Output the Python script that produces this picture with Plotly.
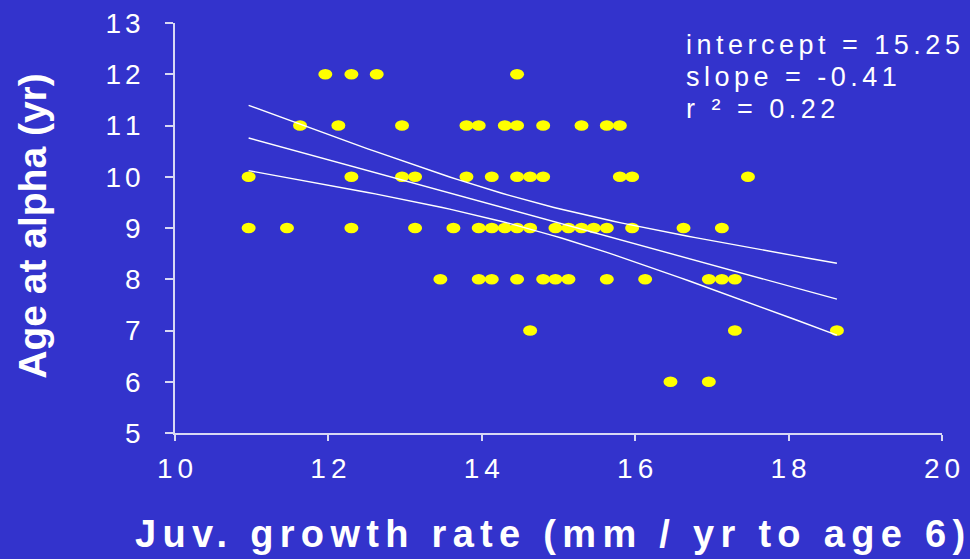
import numpy as np
import plotly.graph_objects as go

# Juvenile growth rate (mm / yr to age 6) of each fish, grouped by age at alpha (yr)
growth_age_12 = [11.96, 12.30, 12.63, 14.46]
growth_age_11 = [11.63, 12.13, 12.96, 13.80, 13.96, 14.30, 14.46, 14.80, 15.30, 15.63, 15.80]
growth_age_10 = [10.96, 12.30, 12.96, 13.13, 13.80, 14.13, 14.46, 14.63, 14.80, 15.80, 15.96, 17.47]
growth_age_9 = [10.96, 11.46, 12.30, 13.13, 13.63, 13.96, 14.13, 14.30, 14.46, 14.63, 14.96,
                15.13, 15.30, 15.46, 15.63, 15.96, 16.63, 17.13]
growth_age_8 = [13.46, 13.96, 14.13, 14.46, 14.80, 14.96, 15.13, 15.63, 16.13, 16.96, 17.13, 17.30]
growth_age_7 = [14.63, 17.30, 18.63]
growth_age_6 = [16.46, 16.96]

# Fitted regression
INTERCEPT = 15.25
SLOPE = -0.41
R_SQUARED = 0.22
T_90 = 1.671  # two-sided 90% t quantile, ~60 df

x_ticks = [10, 12, 14, 16, 18, 20]
y_ticks = [5, 6, 7, 8, 9, 10, 11, 12, 13]

BG = "#3333CC"
DOT = "#FFFF00"
AXIS = "#D8D8F4"
FONT = "Liberation Sans, Arial, sans-serif"

groups = {12: growth_age_12, 11: growth_age_11, 10: growth_age_10, 9: growth_age_9,
          8: growth_age_8, 7: growth_age_7, 6: growth_age_6}
gx = np.array([g for age, vals in groups.items() for g in vals])
ay = np.array([age for age, vals in groups.items() for _ in vals], dtype=float)

# Regression line with confidence band of the mean
xs = np.linspace(gx.min(), gx.max(), 80)
fit = INTERCEPT + SLOPE * xs
n = len(gx)
resid = ay - (INTERCEPT + SLOPE * gx)
s = np.sqrt(np.sum(resid ** 2) / (n - 2))
sxx = np.sum((gx - gx.mean()) ** 2)
half = T_90 * s * np.sqrt(1.0 / n + (xs - gx.mean()) ** 2 / sxx)


def spaced(text, px):
    # letter-spacing on every character except the last, so no trailing gap
    return f'<span style="letter-spacing:{px}px">{text[:-1]}</span>{text[-1]}'


fig = go.Figure()
line_style = dict(color="white", width=1.4)
for yv in (fit + half, fit, fit - half):
    fig.add_trace(go.Scatter(x=xs, y=yv, mode="lines", line=line_style,
                             hoverinfo="skip", showlegend=False))

# Elliptical yellow dots anchored at each observation
shapes = []
for xv, yv in zip(gx, ay):
    shapes.append(dict(type="circle", xref="x", yref="y", xsizemode="pixel", ysizemode="pixel",
                       xanchor=float(xv), yanchor=float(yv), x0=-7, x1=7, y0=-5.3, y1=5.3,
                       fillcolor=DOT, line=dict(width=0), layer="below"))

annotations = [
    dict(text="Age at alpha (yr)", textangle=-90, xref="paper", yref="paper",
         x=-0.216, y=0.505, showarrow=False,
         font=dict(family=FONT, size=39, color="white", weight="bold")),
    dict(text=spaced("Juv. growth rate (mm / yr to age 6)", 6.3), xref="paper", yref="paper",
         x=0.4885, y=-0.302, showarrow=False,
         font=dict(family=FONT, size=38, color="white", weight="bold")),
]
stat_lines = [f"intercept = {INTERCEPT:.2f}", f"slope = {SLOPE:.2f}", f"r ² = {R_SQUARED:.2f}"]
for i, t in enumerate(stat_lines):
    annotations.append(dict(text=spaced(t, 4.5), xref="paper", yref="paper", xanchor="left",
                            x=0.664, y=0.987 - i * 0.078, showarrow=False,
                            font=dict(family=FONT, size=27, color="white")))

fig.update_layout(
    width=970, height=559,
    margin=dict(l=175, r=28, t=23, b=126, autoexpand=False),
    paper_bgcolor=BG, plot_bgcolor=BG,
    shapes=shapes, annotations=annotations, showlegend=False,
    xaxis=dict(range=[10, 20], tickvals=x_ticks, ticktext=[spaced(str(v), 5) for v in x_ticks],
               ticks="outside", ticklen=6, tickcolor=AXIS, tickwidth=1.5,
               showline=True, linecolor=AXIS, linewidth=1.5, showgrid=False, zeroline=False,
               tickfont=dict(family=FONT, size=28, color="white"), ticklabelstandoff=4),
    yaxis=dict(range=[5, 13], tickvals=y_ticks, ticktext=[spaced(str(v), 4) for v in y_ticks],
               ticks="outside", ticklen=8, tickcolor=AXIS, tickwidth=1.5,
               showline=True, linecolor=AXIS, linewidth=1.5, showgrid=False, zeroline=False,
               tickfont=dict(family=FONT, size=28, color="white"), ticklabelstandoff=19),
)

fig.write_html("out.html")
